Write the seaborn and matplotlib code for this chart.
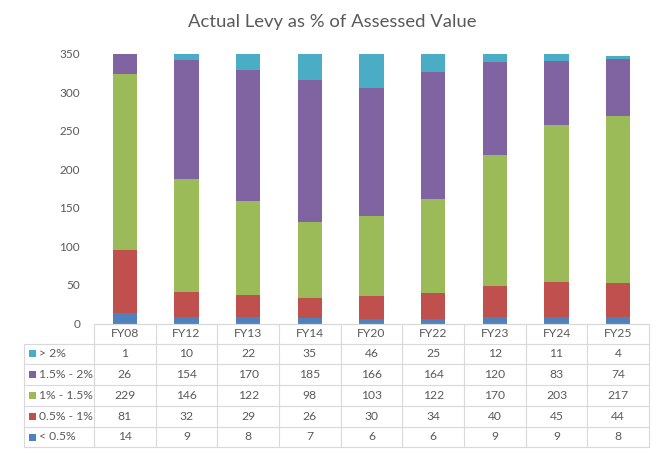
import numpy as np
import pandas as pd
import matplotlib
matplotlib.use("Agg")
import matplotlib.pyplot as plt
import seaborn as sns

years = ["FY08", "FY12", "FY13", "FY14", "FY20", "FY22", "FY23", "FY24", "FY25"]
below_05 = [14, 9, 8, 7, 6, 6, 9, 9, 8]
p05_1 = [81, 32, 29, 26, 30, 34, 40, 45, 44]
p1_15 = [229, 146, 122, 98, 103, 122, 170, 203, 217]
p15_2 = [26, 154, 170, 185, 166, 164, 120, 83, 74]
above_2 = [1, 10, 22, 35, 46, 25, 12, 11, 4]

series_names = ["< 0.5%", "0.5% - 1%", "1% - 1.5%", "1.5% - 2%", "> 2%"]
series_vals = [below_05, p05_1, p1_15, p15_2, above_2]
colors = ["#4F81BD", "#C0504D", "#9BBB59", "#8064A2", "#4BACC6"]

sns.set_theme(style="white")
plt.rcParams["font.family"] = ["Lato", "DejaVu Sans"]
text_col = "#595959"
grid_col = "#D9D9D9"

W, H = 664, 455
fig = plt.figure(figsize=(W / 100, H / 100), dpi=100)

# plot area in pixels
x0, x1 = 94, 649
y_top, y_bot = 53.5, 323.5
ax = fig.add_axes([x0 / W, 1 - y_bot / H, (x1 - x0) / W, (y_bot - y_top) / H])

df = pd.DataFrame({"year": years})
cum = np.zeros(len(years))
cums = []
for vals in series_vals:
    cum = cum + np.array(vals)
    cums.append(cum.copy())

# draw cumulative totals back to front so they look stacked
for name, c, col in reversed(list(zip(series_names, cums, colors))):
    df["v"] = c
    sns.barplot(data=df, x="year", y="v", color=col, width=0.39,
                saturation=1, ax=ax, linewidth=0)

ax.set_ylim(0, 350)
ax.set_xlim(-0.5, len(years) - 0.5)
ax.set_yticks(range(0, 351, 50))
ax.tick_params(axis="y", labelsize=8.5, labelcolor=text_col, length=0, pad=10)
ax.set_xticks([])
ax.set_xlabel("")
ax.set_ylabel("")
for s in ["top", "right", "left"]:
    ax.spines[s].set_visible(False)
ax.spines["bottom"].set_color(grid_col)
ax.spines["bottom"].set_linewidth(0.8)

fig.text(332 / W, 1 - 22 / H, "Actual Levy as % of Assessed Value",
         ha="center", va="center", fontsize=13.3, color=text_col)

# data table under the plot
def fx(px):
    return px / W

def fy(py):
    return 1 - py / H

row_lines = [323.5, 343.5, 364, 385, 406, 427, 447]
tbl_left = 24
col_w = (x1 - x0) / len(years)
lw = 0.8

# horizontal lines (header row only across data columns)
fig.add_artist(plt.Line2D([fx(x0), fx(x1)], [fy(row_lines[0])] * 2, color=grid_col, lw=lw))
for yy in row_lines[1:]:
    fig.add_artist(plt.Line2D([fx(tbl_left), fx(x1)], [fy(yy)] * 2, color=grid_col, lw=lw))
# vertical lines
fig.add_artist(plt.Line2D([fx(tbl_left)] * 2, [fy(row_lines[1]), fy(row_lines[-1])], color=grid_col, lw=lw))
for i in range(len(years) + 1):
    xx = x0 + i * col_w
    fig.add_artist(plt.Line2D([fx(xx)] * 2, [fy(row_lines[0]), fy(row_lines[-1])], color=grid_col, lw=lw))

# header
for i, yr in enumerate(years):
    cx = x0 + (i + 0.5) * col_w
    fig.text(fx(cx), fy((row_lines[0] + row_lines[1]) / 2), yr, ha="center", va="center",
             fontsize=8.7, color=text_col)

# rows, top series first
for r, (name, vals, col) in enumerate(zip(reversed(series_names), reversed(series_vals), reversed(colors))):
    cy = (row_lines[r + 1] + row_lines[r + 2]) / 2
    fig.add_artist(plt.Rectangle((fx(29), fy(cy + 3.5)), 7 / W, 7 / H, color=col, lw=0))
    fig.text(fx(39), fy(cy), name, ha="left", va="center", fontsize=8.7, color=text_col)
    for i, v in enumerate(vals):
        cx = x0 + (i + 0.5) * col_w
        fig.text(fx(cx), fy(cy), str(v), ha="center", va="center", fontsize=8.7, color=text_col)

fig.savefig("out.png", dpi=100, facecolor="white")
